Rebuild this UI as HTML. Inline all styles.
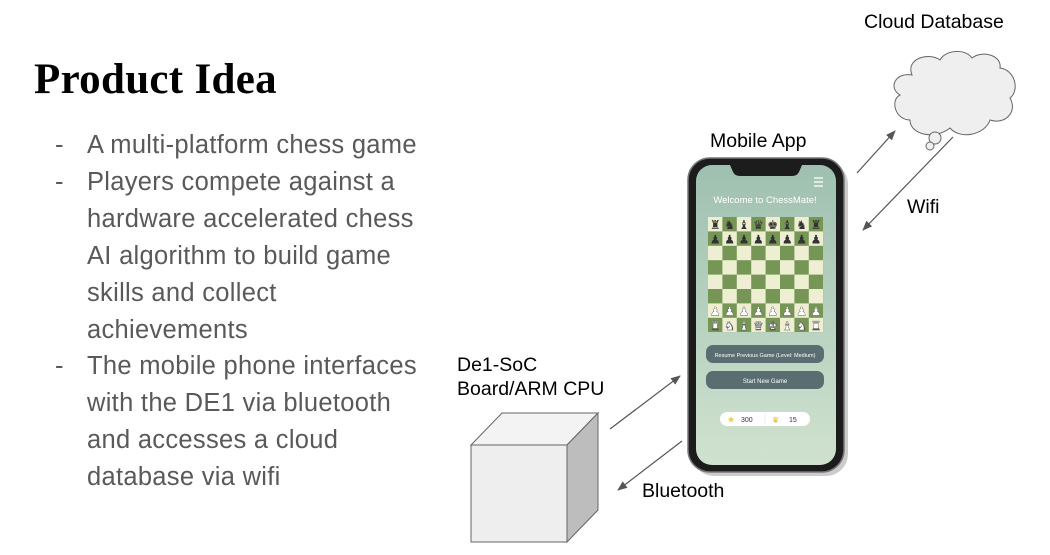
<!DOCTYPE html>
<html><head><meta charset="utf-8"><style>
html,body{margin:0;padding:0;background:#fff;width:1050px;height:555px;overflow:hidden;position:relative;font-family:"Liberation Sans",sans-serif}
.t{position:absolute;left:34px;top:55px;font-family:"Liberation Serif","DejaVu Serif",serif;font-weight:bold;font-size:43px;color:#000;letter-spacing:0.3px}
.b{position:absolute;left:55px;font-size:25.5px;color:#595959;line-height:37px;font-family:"Liberation Sans",sans-serif;letter-spacing:0.3px}
.b span{position:absolute;left:32px;white-space:nowrap}
.l{position:absolute;font-size:19.5px;color:#000;white-space:nowrap}
</style></head><body>
<div class="t">Product Idea</div>
<div class="b" style="top:127px">-<span>A multi-platform chess game</span></div>
<div class="b" style="top:164px">-<span>Players compete against a</span></div>
<div class="b" style="top:201px"><span>hardware accelerated chess</span></div>
<div class="b" style="top:238px"><span>AI algorithm to build game</span></div>
<div class="b" style="top:275px"><span>skills and collect</span></div>
<div class="b" style="top:312px"><span>achievements</span></div>
<div class="b" style="top:348px">-<span>The mobile phone interfaces</span></div>
<div class="b" style="top:385px"><span>with the DE1 via bluetooth</span></div>
<div class="b" style="top:422px"><span>and accesses a cloud</span></div>
<div class="b" style="top:459px"><span>database via wifi</span></div>

<div class="l" style="left:864px;top:11px">Cloud Database</div>
<div class="l" style="left:710px;top:130px">Mobile App</div>
<div class="l" style="left:907px;top:196px">Wifi</div>
<div class="l" style="left:457px;top:354px">De1-SoC</div>
<div class="l" style="left:457px;top:378px">Board/ARM CPU</div>
<div class="l" style="left:642px;top:480px">Bluetooth</div>

<svg width="1050" height="555" style="position:absolute;left:0;top:0">
<defs>
<marker id="a" markerWidth="10" markerHeight="8" refX="9" refY="4" orient="auto" markerUnits="userSpaceOnUse"><path d="M0,0L10,4L0,8z" fill="#555"/></marker>
<linearGradient id="sg" x1="0" y1="0" x2="0" y2="1"><stop offset="0" stop-color="#9fc0b0"/><stop offset="1" stop-color="#d0e2cf"/></linearGradient>
<pattern id="cb" x="708" y="217" width="28.8" height="28.8" patternUnits="userSpaceOnUse">
<rect width="28.8" height="28.8" fill="#769656"/>
<rect width="14.4" height="14.4" fill="#eeeed2"/>
<rect x="14.4" y="14.4" width="14.4" height="14.4" fill="#eeeed2"/>
</pattern>
</defs>
<g fill="#efefef" stroke="#666" stroke-width="1">
<path d="M912,75 C905,58 930,52 940,60 C945,50 965,48 972,58 C982,50 1002,55 1000,68 C1015,70 1020,90 1010,98 C1018,112 1005,125 990,120 C985,135 960,140 950,128 C935,140 910,135 910,120 C895,120 890,100 900,95 C888,88 895,72 912,75z"/>
<circle cx="935" cy="138" r="6"/><circle cx="930" cy="146" r="4"/>
</g>
<g stroke="#555" stroke-width="1.2" fill="none">
<line x1="857" y1="173" x2="895" y2="131" marker-end="url(#a)"/>
<line x1="953" y1="137" x2="863" y2="230" marker-end="url(#a)"/>
<line x1="610" y1="429" x2="680" y2="376" marker-end="url(#a)"/>
<line x1="682" y1="441" x2="618" y2="490" marker-end="url(#a)"/>
</g>
<g stroke="#666" stroke-width="1">
<path d="M471,445 L502,413 L598,413 L567,445z" fill="#f3f3f3"/>
<path d="M567,445 L598,413 L598,510 L567,542z" fill="#bdbdbd"/>
<rect x="471" y="445" width="96" height="97" fill="#eeeeee"/>
</g>
<rect x="692" y="162" width="156" height="314" rx="22" fill="#999" opacity="0.5"/>
<rect x="688" y="158" width="156" height="314" rx="22" fill="#1c1c1c" stroke="#777" stroke-width="1.5"/>
<rect x="696" y="165" width="140" height="300" rx="16" fill="url(#sg)"/>
<path d="M730,165 L802,165 L799,172 Q797,176 792,176 L740,176 Q735,176 733,172z" fill="#1c1c1c"/>
<g stroke="#fff" stroke-width="1.3"><line x1="814" y1="178" x2="823" y2="178"/><line x1="814" y1="182" x2="823" y2="182"/><line x1="814" y1="186" x2="823" y2="186"/></g>
<text x="765" y="203" font-size="9.5" fill="#fff" text-anchor="middle" font-family="Liberation Sans">Welcome to ChessMate!</text>
<rect x="708" y="217" width="115.2" height="115.2" fill="url(#cb)"/>
<g font-size="12" text-anchor="middle" font-family="DejaVu Sans">
<text x="715.2 729.6 744 758.4 772.8 787.2 801.6 816" y="229" fill="#333">♜♞♝♛♚♝♞♜</text>
<text x="715.2 729.6 744 758.4 772.8 787.2 801.6 816" y="243.4" fill="#333">♟♟♟♟♟♟♟♟</text>
<text x="715.2 729.6 744 758.4 772.8 787.2 801.6 816" y="315.4" fill="#fff" stroke="#555" stroke-width="0.4">♟♟♟♟♟♟♟♟</text>
<text x="715.2 729.6 744 758.4 772.8 787.2 801.6 816" y="329.8" fill="#fff" stroke="#555" stroke-width="0.4">♜♞♝♛♚♝♞♜</text>
</g>
<rect x="706" y="345" width="118" height="18" rx="7" fill="#5a6e72"/>
<text x="765" y="357" font-size="5.5" fill="#fff" text-anchor="middle">Resume Previous Game (Level: Medium)</text>
<rect x="706" y="371" width="118" height="18" rx="7" fill="#5a6e72"/>
<text x="765" y="383" font-size="6" fill="#fff" text-anchor="middle">Start New Game</text>
<rect x="720" y="412" width="90" height="14" rx="7" fill="#fff"/>
<text x="727" y="422.5" font-size="9" fill="#f4c542" font-family="DejaVu Sans">★</text>
<text x="741" y="422" font-size="7" fill="#333">300</text>
<line x1="765" y1="413" x2="765" y2="425" stroke="#eee"/>
<text x="772" y="422.5" font-size="8" fill="#e6b820" font-family="DejaVu Sans">♛</text>
<text x="789" y="422" font-size="7" fill="#333">15</text>
</svg>
</body></html>
